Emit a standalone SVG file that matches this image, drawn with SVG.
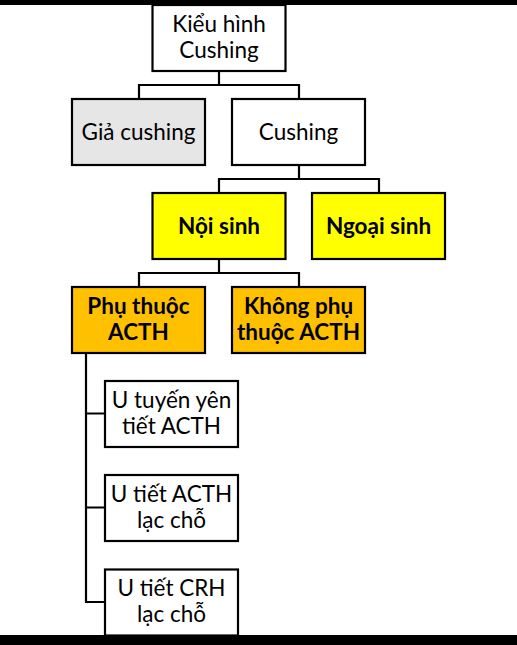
<svg xmlns="http://www.w3.org/2000/svg" width="517" height="645" viewBox="0 0 517 645">
<style>
.box{stroke:#000;stroke-width:2.2}
.w{fill:#fff}
.g{fill:#e6e6e6}
.y{fill:#ffff00}
.o{fill:#ffc000}
.t{font-family:Lato,"Open Sans",sans-serif;font-size:22.5px;fill:#000;text-anchor:middle}
.b{font-weight:bold}
.c{fill:none;stroke:#000;stroke-width:2.2}
</style>
<rect x="0" y="0" width="517" height="645" fill="#fff"/>
<g id="connectors">
<path class="c" d="M219,71 V85 M139,99 V85 H299 V99"/>
<path class="c" d="M299,165 V179 M219,193 V179 H379 V193"/>
<path class="c" d="M219,259 V273 M139,287 V273 H299 V287"/>
<path class="c" d="M86,353 V602 H105 M86,413.5 H105 M86,507.5 H105"/>
</g>
<g id="n-kieuhinh"><rect class="box w" x="152.5" y="5" width="133" height="66"/><text class="t" x="219" y="32">Kiểu hình</text><text class="t" x="219" y="58">Cushing</text></g>
<g id="n-giacushing"><rect class="box g" x="72" y="99" width="133" height="66"/><text class="t" x="138.5" y="140">Giả cushing</text></g>
<g id="n-cushing"><rect class="box w" x="232" y="99" width="133" height="66"/><text class="t" x="298.5" y="140">Cushing</text></g>
<g id="n-noisinh"><rect class="box y" x="152.5" y="193" width="133" height="66"/><text class="t b" x="219" y="234">Nội sinh</text></g>
<g id="n-ngoaisinh"><rect class="box y" x="312" y="193" width="133" height="66"/><text class="t b" x="378.5" y="234">Ngoại sinh</text></g>
<g id="n-phuthuoc"><rect class="box o" x="72" y="287" width="133" height="66"/><text class="t b" x="138.5" y="314">Phụ thuộc</text><text class="t b" x="138.5" y="340">ACTH</text></g>
<g id="n-khongphuthuoc"><rect class="box o" x="232" y="287" width="133" height="66"/><text class="t b" x="298.5" y="314">Không phụ</text><text class="t b" x="298.5" y="340">thuộc ACTH</text></g>
<g id="n-utuyenyen"><rect class="box w" x="105" y="381" width="133" height="66"/><text class="t" x="171.5" y="408">U tuyến yên</text><text class="t" x="171.5" y="434">tiết ACTH</text></g>
<g id="n-utietacth"><rect class="box w" x="105" y="475" width="133" height="66"/><text class="t" x="171.5" y="502">U tiết ACTH</text><text class="t" x="171.5" y="528">lạc chỗ</text></g>
<g id="n-utietcrh"><rect class="box w" x="105" y="569.5" width="133" height="66"/><text class="t" x="171.5" y="596">U tiết CRH</text><text class="t" x="171.5" y="622">lạc chỗ</text></g>
<rect x="0" y="0" width="517" height="5" fill="#000"/>
<rect x="0" y="635" width="517" height="10" fill="#000"/>
</svg>
